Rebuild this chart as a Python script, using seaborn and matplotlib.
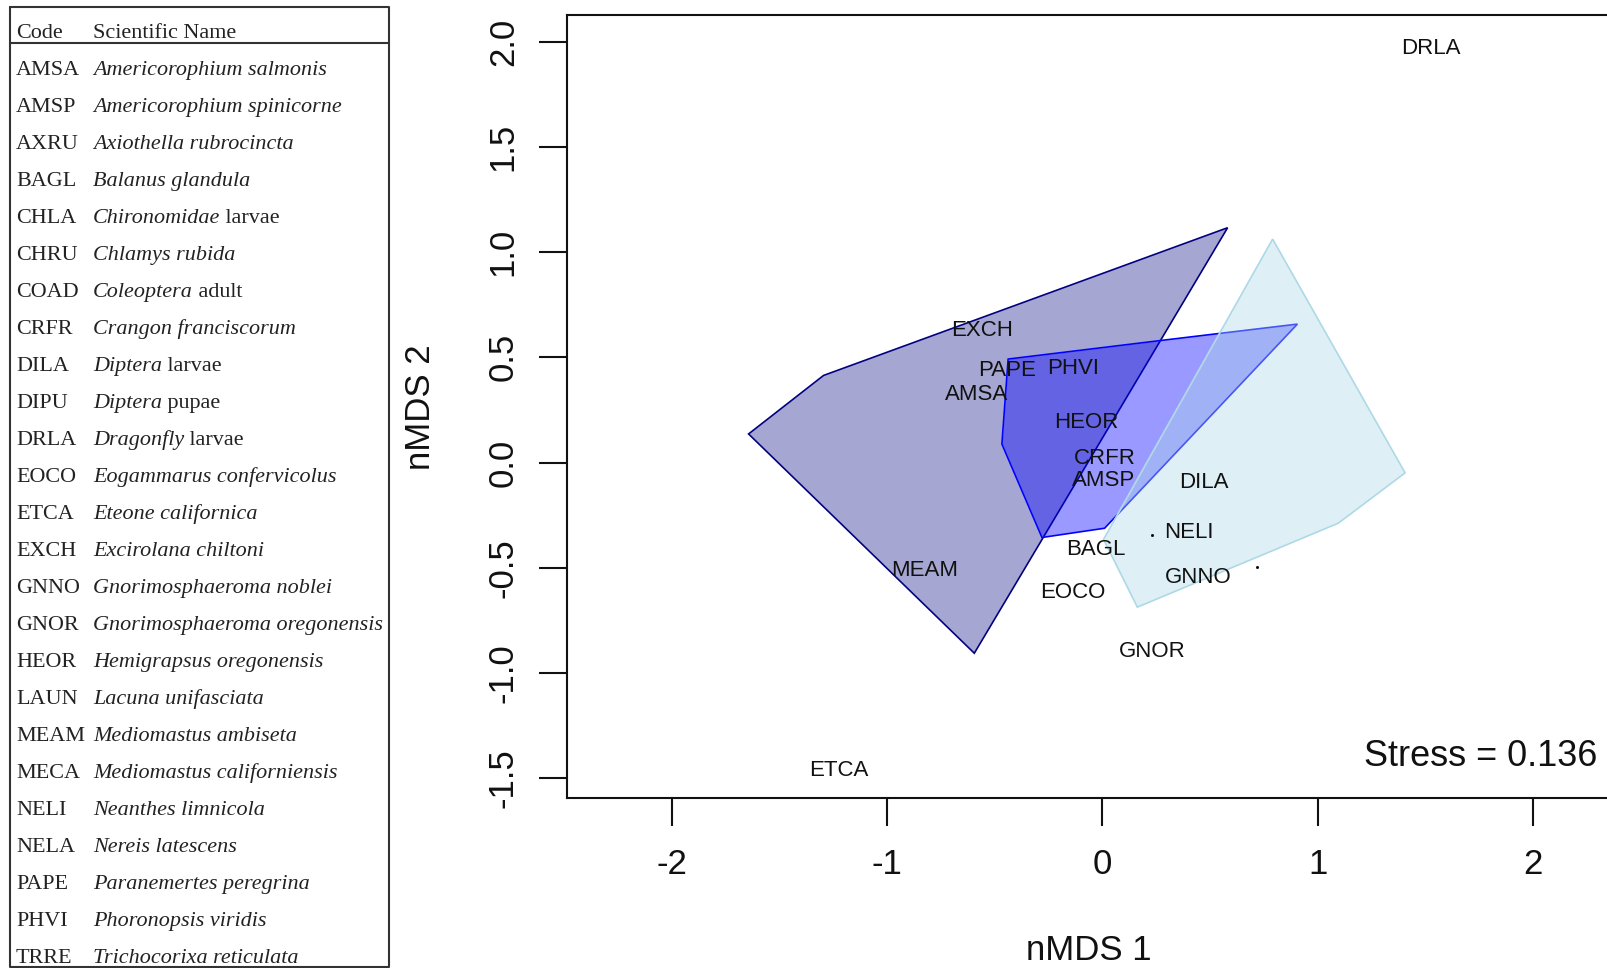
import matplotlib
matplotlib.use("Agg")
import matplotlib.pyplot as plt
import seaborn as sns
import pandas as pd

# species scores
labels = ["DRLA", "EXCH", "PAPE", "PHVI", "AMSA", "HEOR", "CRFR", "AMSP", "DILA",
          "NELI", "BAGL", "GNNO", "MEAM", "EOCO", "GNOR", "ETCA"]
label_x = [1.524, -0.557, -0.443, -0.138, -0.586, -0.076, 0.010, 0.005, 0.471,
           0.400, -0.029, 0.443, -0.824, -0.138, 0.233, -1.224]
label_y = [1.969, 0.629, 0.439, 0.448, 0.322, 0.190, 0.019, -0.083, -0.097,
           -0.331, -0.414, -0.546, -0.512, -0.619, -0.897, -1.462]

# unlabelled points
dot_x = [0.229, 0.719]
dot_y = [-0.346, -0.497]

# convex hulls of the three groups
hull_a_x = [-1.643, -1.295, 0.581, -0.595]
hull_a_y = [0.136, 0.414, 1.116, -0.906]
hull_b_x = [-0.438, 0.310, 0.905, 0.010, -0.281, -0.467]
hull_b_y = [0.492, 0.585, 0.658, -0.312, -0.356, 0.088]
hull_c_x = [0.790, 1.405, 1.095, 0.162, 0.005]
hull_c_y = [1.062, -0.049, -0.288, -0.687, -0.365]

x_ticks = [-2, -1, 0, 1, 2]
y_ticks = [-1.5, -1.0, -0.5, 0.0, 0.5, 1.0, 1.5, 2.0]
stress = 0.136

# species key table
codes = ["AMSA", "AMSP", "AXRU", "BAGL", "CHLA", "CHRU", "COAD", "CRFR", "DILA", "DIPU",
         "DRLA", "EOCO", "ETCA", "EXCH", "GNNO", "GNOR", "HEOR", "LAUN", "MEAM", "MECA",
         "NELI", "NELA", "PAPE", "PHVI", "TRRE"]
names_italic = ["Americorophium salmonis", "Americorophium spinicorne", "Axiothella rubrocincta",
                "Balanus glandula", "Chironomidae", "Chlamys rubida", "Coleoptera",
                "Crangon franciscorum", "Diptera", "Diptera", "Dragonfly",
                "Eogammarus confervicolus", "Eteone californica", "Excirolana chiltoni",
                "Gnorimosphaeroma noblei", "Gnorimosphaeroma oregonensis",
                "Hemigrapsus oregonensis", "Lacuna unifasciata", "Mediomastus ambiseta",
                "Mediomastus californiensis", "Neanthes limnicola", "Nereis latescens",
                "Paranemertes peregrina", "Phoronopsis viridis", "Trichocorixa reticulata"]
names_plain = ["", "", "", "", " larvae", "", " adult", "", " larvae", " pupae", " larvae",
               "", "", "", "", "", "", "", "", "", "", "", "", "", ""]

sns.set_theme(style="ticks")
plt.rcParams["font.family"] = ["Liberation Sans", "DejaVu Sans"]

W, H = 1608, 968
fig = plt.figure(figsize=(W / 100, H / 100), dpi=100)
fig.patch.set_facecolor("white")

# ---- table on the left, drawn in pixel coordinates
tab = fig.add_axes([0, 0, 1, 1])
tab.set_xlim(0, W)
tab.set_ylim(H, 0)
tab.axis("off")
tab.patch.set_alpha(0)
tab.plot([10, 389, 389, 10, 10], [7, 7, 967, 967, 7], color="#333333", lw=1.5)
tab.plot([10, 389], [43, 43], color="#333333", lw=1.5)
serif = ["Liberation Serif", "DejaVu Serif"]
fs = 15.9
tab.text(16, 33, "Code", family=serif, fontsize=fs, va="center", color="#222222")
tab.text(93, 33, "Scientific Name", family=serif, fontsize=fs, va="center", color="#222222")
row0, step = 70.5, 37.0
for i, (c, it, pl) in enumerate(zip(codes, names_italic, names_plain)):
    y = row0 + i * step
    tab.text(16, y, c, family=serif, fontsize=fs, va="center", color="#222222")
    t = tab.text(93, y, it, family=serif, style="italic", fontsize=fs, va="center",
                 color="#222222")
    if pl:
        tab.annotate(pl, xy=(1, 0.5), xycoords=t, va="center", ha="left",
                     family=serif, fontsize=fs, color="#222222")

# ---- ordination plot (right edge of the box sits at the figure edge)
ax = fig.add_axes([567 / W, 1 - 798 / H, 1044 / W, (798 - 15.4) / H])
ax.set_xlim(-2.486, 2.361)
ax.set_ylim(-1.594, 2.125)

ax.fill(hull_a_x, hull_a_y, facecolor="navy", alpha=0.35, zorder=1)
ax.fill(hull_a_x, hull_a_y, facecolor="none", edgecolor="navy", lw=1.2, zorder=1)
ax.fill(hull_b_x, hull_b_y, facecolor="blue", alpha=0.4, zorder=2)
ax.fill(hull_b_x, hull_b_y, facecolor="none", edgecolor="blue", lw=1.2, zorder=2)
ax.fill(hull_c_x, hull_c_y, facecolor="lightblue", alpha=0.4, zorder=3)
ax.fill(hull_c_x, hull_c_y, facecolor="none", edgecolor="lightblue", lw=1.2, zorder=3)

dots = pd.DataFrame({"x": dot_x, "y": dot_y})
sns.scatterplot(data=dots, x="x", y="y", ax=ax, s=4, color="black", edgecolor=None, zorder=4)

for lab, x, y in zip(labels, label_x, label_y):
    ax.text(x, y, lab, ha="center", va="center", fontsize=16, color="#111111", zorder=5)

fig.text(1597 / W, 1 - 757 / H, f"Stress = {stress}", ha="right", va="center",
         fontsize=26, color="#111111")

ax.set_xticks(x_ticks)
ax.set_xticklabels([str(v) for v in x_ticks])
ax.set_yticks(y_ticks)
ax.set_yticklabels([f"{v:.1f}" for v in y_ticks], rotation=90, va="center")
ax.tick_params(axis="both", length=20, width=1.5, color="#111111", labelsize=25,
               labelcolor="#111111")
ax.tick_params(axis="x", pad=16)
ax.tick_params(axis="y", pad=14)
for s in ax.spines.values():
    s.set_linewidth(1.5)
    s.set_color("#111111")
ax.set_xlabel("nMDS 1", fontsize=25, labelpad=38, color="#111111")
ax.set_ylabel("nMDS 2", fontsize=25, labelpad=36, color="#111111")

fig.savefig("out.png", dpi=100, facecolor="white")
